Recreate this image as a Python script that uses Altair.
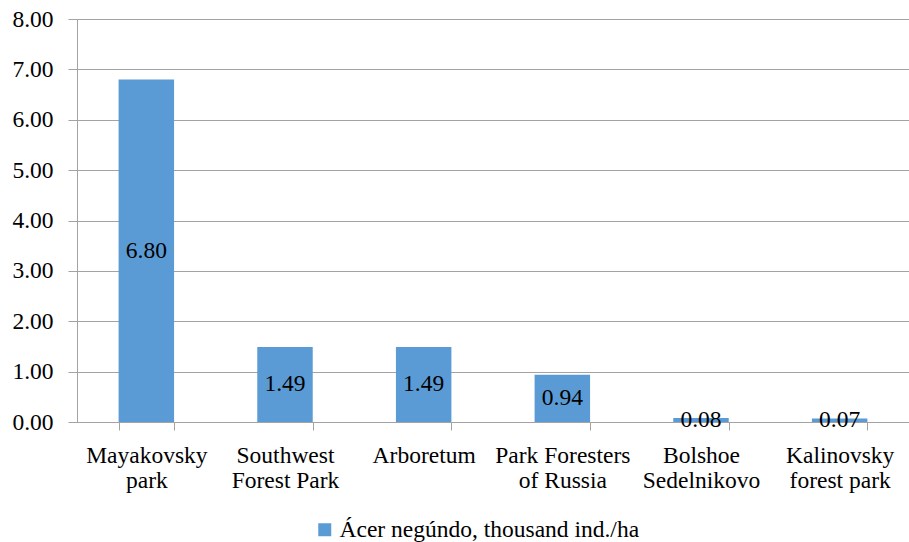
import altair as alt
import pandas as pd

# Site names (line breaks mark where the axis label wraps) and densities
categories = [
    "Mayakovsky\npark",
    "Southwest\nForest Park",
    "Arboretum",
    "Park Foresters\nof Russia",
    "Bolshoe\nSedelnikovo",
    "Kalinovsky\nforest park",
]
values = [6.80, 1.49, 1.49, 0.94, 0.08, 0.07]
series_name = "Ácer negúndo, thousand ind./ha"
y_ticks = [0, 1, 2, 3, 4, 5, 6, 7, 8]

df = pd.DataFrame({"site": categories, "density": values, "series": series_name})

FONT = "Liberation Serif"
FS = 23.5
BAR = "#5B9BD5"
GRID = "#a3a3a3"

x_enc = alt.X(
    "site:N",
    sort=categories,
    title=None,
    scale=alt.Scale(paddingInner=0.6, paddingOuter=0.3),
    axis=alt.Axis(
        labelExpr="isValid(datum.value) ? split(datum.value, '\\n') : ''",
        labelAngle=0,
        labelFont=FONT,
        labelFontSize=FS,
        labelLineHeight=25,
        labelColor="black",
        labelPadding=13,
        labelLimit=300,
        tickBand="extent",
        tickSize=8,
        tickColor=GRID,
        domainColor=GRID,
        grid=False,
    ),
)

y_axis = alt.Axis(
    values=y_ticks,
    format=".2f",
    labelFont=FONT,
    labelFontSize=FS,
    labelColor="black",
    labelPadding=15,
    tickSize=9,
    tickColor=GRID,
    domainColor=GRID,
    gridColor=GRID,
    grid=True,
)

bars = alt.Chart(df).mark_bar().encode(
    x=x_enc,
    y=alt.Y("density:Q", title=None, scale=alt.Scale(domain=[0, 8], nice=False), axis=y_axis),
    color=alt.Color(
        "series:N",
        scale=alt.Scale(range=[BAR]),
        legend=alt.Legend(
            title=None,
            orient="none",
            legendX=236,
            legendY=499,
            symbolType="square",
            symbolSize=169,
            symbolStrokeWidth=0,
            symbolOpacity=1,
            labelFont=FONT,
            labelFontSize=FS,
            labelColor="black",
            labelOffset=3,
            labelLimit=500,
            padding=0,
        ),
    ),
)

labels = alt.Chart(df).transform_calculate(
    mid="datum.density / 2"
).mark_text(font=FONT, fontSize=FS, baseline="middle", color="black").encode(
    x=alt.X("site:N", sort=categories),
    y=alt.Y("mid:Q", title=None),
    text=alt.Text("density:Q", format=".2f"),
)

chart = (
    alt.layer(bars, labels)
    .properties(
        width=832,
        height=403,
        autosize=alt.AutoSizeParams(type="none"),
        padding={"left": 77, "top": 19, "right": 0, "bottom": 120},
    )
    .configure_view(stroke=None)
    .configure(background="white")
)

chart.save("out.html", embed_options={"renderer": "svg", "actions": False})
